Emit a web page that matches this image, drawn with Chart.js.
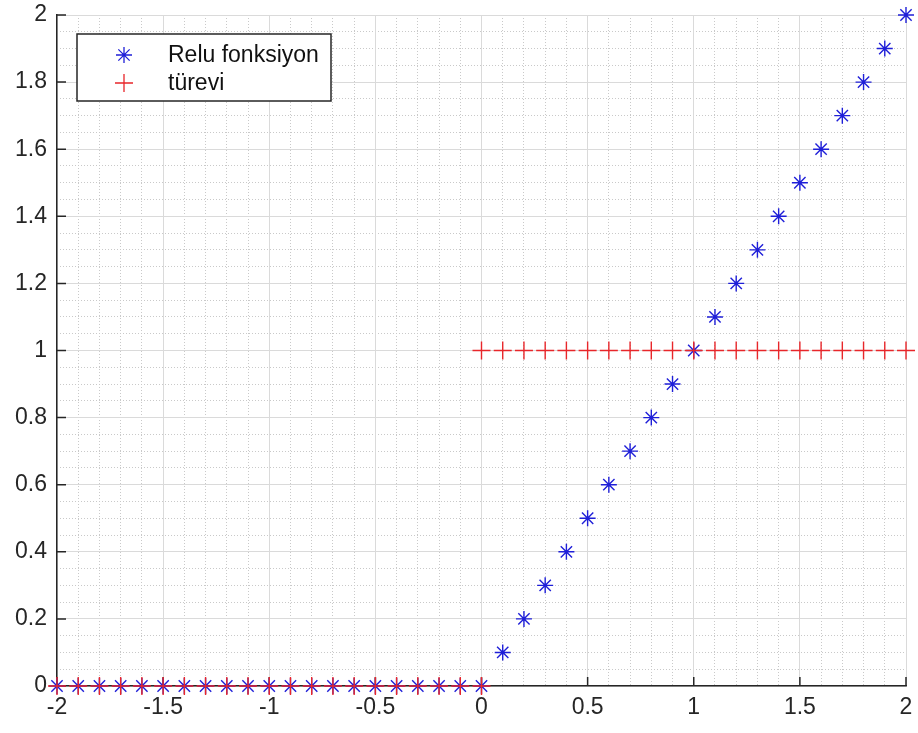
<!DOCTYPE html>
<html>
<head>
<meta charset="utf-8">
<script src="https://cdn.jsdelivr.net/npm/chart.js@4/dist/chart.umd.min.js"></script>
<style>
  html, body { margin: 0; padding: 0; background: #ffffff; }
  #wrap { width: 918px; height: 733px; }
</style>
</head>
<body>
<div id="wrap"><canvas id="reluChart"></canvas></div>
<script>
// x values of the plot
const xValues = [-2, -1.9, -1.8, -1.7, -1.6, -1.5, -1.4, -1.3, -1.2, -1.1, -1, -0.9, -0.8, -0.7, -0.6, -0.5, -0.4, -0.3, -0.2, -0.1,
                 0, 0.1, 0.2, 0.3, 0.4, 0.5, 0.6, 0.7, 0.8, 0.9, 1, 1.1, 1.2, 1.3, 1.4, 1.5, 1.6, 1.7, 1.8, 1.9, 2];
// relu values
const reluValues = [0, 0, 0, 0, 0, 0, 0, 0, 0, 0, 0, 0, 0, 0, 0, 0, 0, 0, 0, 0,
                    0, 0.1, 0.2, 0.3, 0.4, 0.5, 0.6, 0.7, 0.8, 0.9, 1, 1.1, 1.2, 1.3, 1.4, 1.5, 1.6, 1.7, 1.8, 1.9, 2];
// derivative (two pieces, x = 0 appears in both)
const derivLeftX = [-2, -1.9, -1.8, -1.7, -1.6, -1.5, -1.4, -1.3, -1.2, -1.1, -1, -0.9, -0.8, -0.7, -0.6, -0.5, -0.4, -0.3, -0.2, -0.1, 0];
const derivLeftY = [0, 0, 0, 0, 0, 0, 0, 0, 0, 0, 0, 0, 0, 0, 0, 0, 0, 0, 0, 0, 0];
const derivRightX = [0, 0.1, 0.2, 0.3, 0.4, 0.5, 0.6, 0.7, 0.8, 0.9, 1, 1.1, 1.2, 1.3, 1.4, 1.5, 1.6, 1.7, 1.8, 1.9, 2];
const derivRightY = [1, 1, 1, 1, 1, 1, 1, 1, 1, 1, 1, 1, 1, 1, 1, 1, 1, 1, 1, 1, 1];
// tick labels
const xTickLabels = [-2, -1.5, -1, -0.5, 0, 0.5, 1, 1.5, 2];
const yTickLabels = [0, 0.2, 0.4, 0.6, 0.8, 1, 1.2, 1.4, 1.6, 1.8, 2];
const legendLabels = ['Relu fonksiyon', 't\u00fcrevi'];

const BLUE = '#1f1fd8';
const RED = '#e8262a';
const AXIS = '#262626';
const FONT = '"Liberation Sans", Arial, Helvetica, sans-serif';

const reluPoints = xValues.map((x, i) => ({ x: x, y: reluValues[i] }));
const derivPoints = derivLeftX.map((x, i) => ({ x: x, y: derivLeftY[i] }))
    .concat(derivRightX.map((x, i) => ({ x: x, y: derivRightY[i] })));

const isMultiple = (v, step) => Math.abs(v / step - Math.round(v / step)) < 1e-6;

// inward tick marks on left and bottom axes
const innerTicks = {
    id: 'innerTicks',
    beforeDatasetsDraw(chart) {
        const ctx = chart.ctx;
        const xs = chart.scales.x;
        const ys = chart.scales.y;
        const area = chart.chartArea;
        ctx.save();
        ctx.strokeStyle = AXIS;
        ctx.lineWidth = 1.5;
        ctx.beginPath();
        xTickLabels.forEach(v => {
            const px = xs.getPixelForValue(v);
            ctx.moveTo(px, area.bottom);
            ctx.lineTo(px, area.bottom - 9);
        });
        yTickLabels.forEach(v => {
            const py = ys.getPixelForValue(v);
            ctx.moveTo(area.left, py);
            ctx.lineTo(area.left + 9, py);
        });
        ctx.stroke();
        ctx.restore();
    }
};

// legend box inside the plot, top-left
const boxLegend = {
    id: 'boxLegend',
    afterDraw(chart) {
        const ctx = chart.ctx;
        const left = 77, top = 34, w = 254, h = 67;
        ctx.save();
        ctx.fillStyle = '#ffffff';
        ctx.fillRect(left, top, w, h);
        ctx.strokeStyle = AXIS;
        ctx.lineWidth = 1.5;
        ctx.strokeRect(left, top, w, h);

        const styles = [
            { pointStyle: 'star', radius: 8, borderWidth: 1.3, borderColor: BLUE },
            { pointStyle: 'cross', radius: 9, borderWidth: 1.3, borderColor: RED }
        ];
        const rows = [55, 83];
        ctx.font = '23px ' + FONT;
        ctx.textBaseline = 'middle';
        rows.forEach((y, i) => {
            ctx.strokeStyle = styles[i].borderColor;
            ctx.lineWidth = styles[i].borderWidth;
            Chart.helpers.drawPoint(ctx, styles[i], 124, y);
            ctx.fillStyle = '#111111';
            ctx.fillText(legendLabels[i], 168, y + 1);
        });
        ctx.restore();
    }
};

const ctx = document.getElementById('reluChart').getContext('2d');
const reluChart = new Chart(ctx, {
    type: 'scatter',
    data: {
        datasets: [{
                label: legendLabels[0],
                data: reluPoints,
                pointStyle: 'star',
                pointRadius: 8,
                pointBorderWidth: 1.4,
                borderColor: BLUE,
                backgroundColor: BLUE,
                showLine: false,
                clip: false,
                order: 2
            },
            {
                label: legendLabels[1],
                data: derivPoints,
                pointStyle: 'cross',
                pointRadius: 9,
                pointBorderWidth: 1.4,
                borderColor: RED,
                backgroundColor: RED,
                showLine: false,
                clip: false,
                order: 1
            }
        ]
    },
    options: {
        responsive: true,
        maintainAspectRatio: false,
        animation: false,
        layout: {
            padding: { top: 15, right: 12, left: 0, bottom: 0 }
        },
        scales: {
            xMinor: {
                type: 'linear',
                position: 'bottom',
                min: -2,
                max: 2,
                ticks: { stepSize: 0.1, display: false },
                grid: {
                    drawTicks: false,
                    color: c => isMultiple(c.tick.value, 0.5) ? 'rgba(0,0,0,0)' : '#c9c9c9',
                    lineWidth: 1
                },
                border: { display: false, dash: [1, 2] },
                afterFit: s => { s.height = 0; s.paddingLeft = 0; s.paddingRight = 0; }
            },
            yMinor: {
                type: 'linear',
                position: 'left',
                min: 0,
                max: 2,
                ticks: { stepSize: 0.05, display: false },
                grid: {
                    drawTicks: false,
                    color: c => isMultiple(c.tick.value, 0.2) ? 'rgba(0,0,0,0)' : '#c9c9c9',
                    lineWidth: 1
                },
                border: { display: false, dash: [1, 2] },
                afterFit: s => { s.width = 0; s.paddingTop = 0; s.paddingBottom = 0; }
            },
            x: {
                type: 'linear',
                position: 'bottom',
                min: -2,
                max: 2,
                ticks: {
                    stepSize: 0.5,
                    color: AXIS,
                    padding: 8,
                    font: { family: FONT, size: 23 },
                    callback: v => String(Math.round(v * 10) / 10)
                },
                grid: { color: '#dadada', lineWidth: 1, drawTicks: false },
                border: { color: AXIS, width: 1.5 },
                afterFit: s => { s.height = 47; s.paddingLeft = 0; s.paddingRight = 0; }
            },
            y: {
                type: 'linear',
                position: 'left',
                min: 0,
                max: 2,
                ticks: {
                    stepSize: 0.2,
                    color: AXIS,
                    padding: 10,
                    font: { family: FONT, size: 23 },
                    callback: v => String(Math.round(v * 10) / 10)
                },
                grid: { color: '#dadada', lineWidth: 1, drawTicks: false },
                border: { color: AXIS, width: 1.5 },
                afterFit: s => { s.width = 57; s.paddingTop = 0; s.paddingBottom = 0; }
            }
        },
        plugins: {
            legend: { display: false },
            tooltip: { enabled: false }
        }
    },
    plugins: [innerTicks, boxLegend]
});
</script>
</body>
</html>
